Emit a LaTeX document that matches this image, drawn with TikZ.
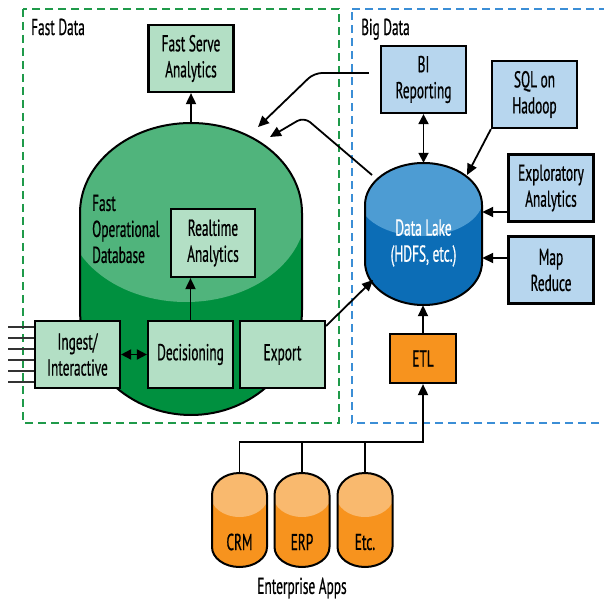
\documentclass[tikz,border=0pt]{standalone}
\usepackage{fontspec}
\setmainfont{PT Sans}[FakeStretch=0.58, FakeBold=0.6]
\usetikzlibrary{arrows.meta,calc}

\definecolor{mint}{HTML}{B3DFC5}
\definecolor{gdark}{HTML}{00903F}
\definecolor{glight}{HTML}{50B47C}
\definecolor{gdash}{HTML}{1F9A4A}
\definecolor{bdark}{HTML}{0C6DB6}
\definecolor{blight}{HTML}{4D9CD3}
\definecolor{bbox}{HTML}{B7D6EE}
\definecolor{bdash}{HTML}{3B8ED6}
\definecolor{odark}{HTML}{F7931E}
\definecolor{olight}{HTML}{F9B96E}

\tikzset{
  txt/.style={font=\fontsize{23}{26}\selectfont, align=center},
  boxbase/.style={txt, draw=black, line width=2.2pt, inner sep=0pt,
    minimum width=85pt, minimum height=67pt},
  gbox/.style={boxbase, fill=mint},
  bbx/.style={boxbase, fill=bbox},
  obox/.style={boxbase, fill=odark, minimum width=66pt, minimum height=49pt},
  conn/.style={draw=black, line width=1.8pt},
  arr/.style={conn, -{Triangle[length=11pt,width=10pt]}},
  darr/.style={conn, {Triangle[length=10pt,width=10pt]}-{Triangle[length=10pt,width=10pt]}},
  region/.style={line width=2.2pt, dash pattern=on 8pt off 5pt},
  outline/.style={draw=black, line width=2pt},
  anchorbox/.style={draw=none, fill=none, inner sep=0pt},
}

\begin{document}
\begin{tikzpicture}[x=1pt,y=-1pt]
\useasboundingbox (0,0) rectangle (604,601);

% regions
\draw[region, gdash] (23,9) rectangle (339,423);
\draw[region, bdash] (352,9) -- (612,9) (612,423) -- (352,423) -- (352,9);
\node[txt, anchor=base west, inner sep=0pt] (fastlbl) at (31,35) {Fast Data};
\node[txt, anchor=base west, inner sep=0pt] (biglbl) at (361,35) {Big Data};

% fast operational database cylinder
\def\greencyl{(80,213) arc[start angle=180,end angle=0,x radius=111pt,y radius=90pt]
  -- (302,310) arc[start angle=0,end angle=-180,x radius=111pt,y radius=105pt] -- cycle}
\fill[gdark] \greencyl;
\begin{scope}
  \clip \greencyl;
  \fill[glight] (186,211) ellipse[x radius=120pt, y radius=91pt];
\end{scope}
\draw[outline] \greencyl;
\node[anchorbox, minimum width=222pt, minimum height=292pt] (fodb) at (191,269) {};
\node[txt, align=left, anchor=west, inner sep=0pt] (fodblbl) at (92,229) {Fast\\Operational\\Database};

% data lake cylinder
\def\bluecyl{(365,205) arc[start angle=180,end angle=0,x radius=58.5pt,y radius=42pt]
  -- (482,262) arc[start angle=0,end angle=-180,x radius=58.5pt,y radius=43pt] -- cycle}
\fill[bdark] \bluecyl;
\begin{scope}
  \clip \bluecyl;
  \fill[blight] (421,199) ellipse[x radius=62pt, y radius=37pt];
\end{scope}
\draw[outline] \bluecyl;
\node[anchorbox, minimum width=117pt, minimum height=142pt] (lake) at (423.5,234) {};
\node[txt, text=white] (lakelbl) at (423.5,243) {Data Lake\\(HDFS, etc.)};

% enterprise application stores
\foreach \cx/\nm/\t in {239.5/crm/CRM, 302/erp/ERP, 365/etc/Etc.}{
  \def\ocyl{(\cx-27.5,495) arc[start angle=180,end angle=0,x radius=27.5pt,y radius=22pt]
    -- (\cx+27.5,547) arc[start angle=0,end angle=-180,x radius=27.5pt,y radius=20pt] -- cycle}
  \fill[odark] \ocyl;
  \begin{scope}
    \clip \ocyl;
    \fill[olight] (\cx,495) ellipse[x radius=29pt, y radius=22pt];
  \end{scope}
  \draw[outline] \ocyl;
  \node[anchorbox, minimum width=55pt, minimum height=94pt] (\nm) at (\cx,520) {};
  \node[txt] (\nm lbl) at (\cx,542) {\t};
}
\node[txt] (entlbl) at (302,588) {Enterprise Apps};

% boxes
\node[gbox] (fsa) at (191,58.5) {Fast Serve\\Analytics};
\node[gbox, minimum width=84pt, minimum height=68pt] (rta) at (213,243) {Realtime\\Analytics};
\node[gbox] (ing) at (77.5,354.5) {Ingest/\\Interactive};
\node[gbox] (dec) at (190.5,354.5) {Decisioning};
\node[gbox] (exp) at (282.5,354.5) {Export};
\node[bbx] (bi) at (423.5,79.5) {BI\\Reporting};
\node[bbx] (sql) at (534.5,94.5) {SQL on\\Hadoop};
\node[bbx] (exa) at (551,188) {Exploratory\\Analytics};
\node[bbx] (mr) at (551,270) {Map\\Reduce};
\node[obox] (etl) at (423,358.5) {ETL};

% incoming feeds
\foreach \dy in {-27.5,-16.5,-5.5,5.5,16.5,27.5}{
  \draw[line width=2.2pt, draw=black!80] ($(ing.west)+(0,\dy)$) -- ++(-26,0);
}

% fast data flows
\draw[arr] (fodb.north) -- (fsa.south);
\draw[arr] (dec.north) -- (dec.north |- rta.south);
\draw[darr] (ing.east) -- (dec.west);
\coordinate (lakeSW) at (373,280);
\draw[arr] ($(exp.north east)+(0,6)$) -- (lakeSW);

% big data flows
\draw[darr] (bi.south) -- (lake.north);
\coordinate (lakeNE) at (467,175);
\draw[arr] (sql.south west) -- (lakeNE);
\draw[arr] (exa.west |- 0,212) -- (lake.east |- 0,212);
\draw[arr] (mr.west |- 0,258) -- (lake.east |- 0,258);
\draw[arr] (etl.north) -- (lake.south -| etl.north);

% results fed back to the operational database
\coordinate (biout) at ($(bi.west)+(-11,-6.5)$);
\coordinate (dbin1) at (258,127);
\draw[arr, rounded corners=8pt] (biout) -- (314,73) -- (dbin1);
\coordinate (lakeNW) at (372,175);
\coordinate (dbin2) at (270,137);
\draw[arr, rounded corners=8pt] (lakeNW) -- (304,117) -- (dbin2);

% enterprise apps to ETL
\coordinate (bus) at (423,442);
\draw[arr] (crm.north) |- (bus) -- (etl.south);
\draw[conn] (erp.north) -- (erp.north |- bus);
\draw[conn] (etc.north) -- (etc.north |- bus);
\end{tikzpicture}
\end{document}
